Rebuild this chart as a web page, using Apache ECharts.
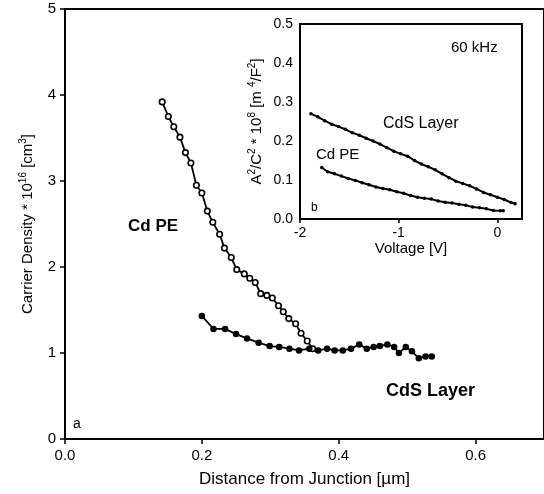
<!DOCTYPE html>
<html><head><meta charset="utf-8">
<script src="https://cdn.jsdelivr.net/npm/echarts@6/dist/echarts.min.js"></script>
<style>html,body{margin:0;padding:0;background:#fff}#c{width:544px;height:494px}</style>
</head><body><div id="c"></div>
<script>
// Main panel (a)
var cdpeX = [0.142,0.151,0.159,0.168,0.176,0.184,0.192,0.200,0.208,0.216,0.226,0.233,0.243,0.251,0.262,0.270,0.278,0.286,0.295,0.303,0.312,0.319,0.327,0.337,0.345,0.354,0.362];
var cdpeY = [3.92,3.75,3.63,3.51,3.33,3.21,2.95,2.86,2.65,2.52,2.38,2.22,2.11,1.97,1.92,1.87,1.82,1.69,1.67,1.64,1.55,1.48,1.40,1.34,1.23,1.14,1.05];
var cdsX = [0.200,0.217,0.234,0.250,0.266,0.283,0.299,0.313,0.328,0.342,0.357,0.370,0.383,0.394,0.406,0.418,0.430,0.441,0.451,0.460,0.471,0.481,0.488,0.498,0.507,0.517,0.527,0.536];
var cdsY = [1.43,1.28,1.28,1.22,1.17,1.12,1.08,1.07,1.05,1.03,1.05,1.03,1.05,1.03,1.03,1.05,1.10,1.05,1.07,1.08,1.10,1.07,1.00,1.07,1.02,0.94,0.96,0.96];
var mainXTicks = ['0.0','0.2','0.4','0.6'];
var mainYTicks = ['0','1','2','3','4','5'];
// Inset panel (b)
var inCdsV = [-1.89,-1.82,-1.75,-1.68,-1.61,-1.54,-1.47,-1.40,-1.33,-1.26,-1.19,-1.12,-1.05,-0.98,-0.91,-0.84,-0.77,-0.70,-0.63,-0.56,-0.49,-0.42,-0.35,-0.28,-0.21,-0.14,-0.07,0.00,0.07,0.14,0.18];
var inCdsY = [0.270,0.262,0.252,0.243,0.237,0.230,0.221,0.215,0.207,0.200,0.192,0.183,0.174,0.167,0.161,0.150,0.141,0.134,0.126,0.116,0.106,0.097,0.091,0.085,0.077,0.068,0.062,0.056,0.050,0.042,0.039];
var inPeV = [-1.78,-1.72,-1.65,-1.58,-1.51,-1.44,-1.37,-1.30,-1.23,-1.16,-1.09,-1.02,-0.95,-0.88,-0.81,-0.74,-0.67,-0.60,-0.53,-0.46,-0.39,-0.32,-0.25,-0.18,-0.11,-0.04,0.03,0.06];
var inPeY = [0.132,0.121,0.116,0.110,0.104,0.099,0.093,0.088,0.082,0.078,0.075,0.070,0.066,0.060,0.056,0.053,0.051,0.046,0.043,0.041,0.038,0.035,0.031,0.029,0.026,0.022,0.021,0.021];
var inXTicks = ['-2','-1','0'];
var inYTicks = ['0.0','0.1','0.2','0.3','0.4','0.5'];

function zip(a,b){return a.map(function(v,i){return [v,b[i]];});}
function pick(arr, v, start, step){var k=(v-start)/step;var i=Math.round(k);if(Math.abs(k-i)>1e-6)return '';return arr[i]||'';}
var F = 'Liberation Sans, Arial, sans-serif';
var chart = echarts.init(document.getElementById('c'), null, {renderer:'canvas'});
var line = {show:true,lineStyle:{color:'#000',width:2}};
var supRich = {b:{fontSize:15,fontFamily:F,color:'#000',lineHeight:17,verticalAlign:'bottom'},s:{fontSize:10,fontFamily:F,color:'#000',lineHeight:17,verticalAlign:'top'}};
chart.setOption({
  animation:false,
  backgroundColor:'#fff',
  grid:[
    {left:65,top:9,width:483,height:430,show:true,borderColor:'#000',borderWidth:2,backgroundColor:'transparent'},
    {left:300,top:24,width:222,height:195,show:true,borderColor:'#000',borderWidth:2,backgroundColor:'#fff',z:5}
  ],
  xAxis:[
    {type:'value',gridIndex:0,min:0,max:0.7,interval:0.2,axisLine:line,splitLine:{show:false},
      axisTick:{length:5,lineStyle:{color:'#000',width:1.5}},
      axisLabel:{color:'#000',fontSize:15,fontFamily:F,margin:9,showMaxLabel:false,formatter:function(v){return pick(mainXTicks,v,0,0.2);}},
      name:'Distance from Junction [µm]',nameLocation:'middle',nameGap:32,nameTextStyle:{color:'#000',fontSize:17,fontFamily:F}},
    {type:'value',gridIndex:1,min:-2,max:0.25,interval:1,axisLine:line,splitLine:{show:false},
      axisTick:{length:4,lineStyle:{color:'#000',width:1.5}},
      axisLabel:{color:'#000',fontSize:14,fontFamily:F,margin:7,showMaxLabel:false,formatter:function(v){return pick(inXTicks,v,-2,1);}},
      name:'Voltage [V]',nameLocation:'middle',nameGap:17,nameTextStyle:{color:'#000',fontSize:15,fontFamily:F}}
  ],
  yAxis:[
    {type:'value',gridIndex:0,min:0,max:5,interval:1,axisLine:line,splitLine:{show:false},
      axisTick:{length:5,lineStyle:{color:'#000',width:1.5}},
      axisLabel:{color:'#000',fontSize:15,fontFamily:F,margin:9,formatter:function(v){return pick(mainYTicks,v,0,1);}},
      name:'{b|Carrier Density * 10}{s|16}{b| [cm}{s|3}{b|]}',nameLocation:'middle',nameGap:30,
      nameTextStyle:{color:'#000',fontFamily:F,rich:supRich}},
    {type:'value',gridIndex:1,min:0,max:0.5,interval:0.1,axisLine:line,splitLine:{show:false},
      axisTick:{length:4,lineStyle:{color:'#000',width:1.5}},
      axisLabel:{color:'#000',fontSize:14,fontFamily:F,margin:7,formatter:function(v){return pick(inYTicks,v,0,0.1);}},
      name:'{b|A}{s|2}{b|/C}{s|2}{b| * 10}{s|8}{b| [m }{s|4}{b|/F}{s|2}{b|]}',nameLocation:'middle',nameGap:36,
      nameTextStyle:{color:'#000',fontFamily:F,rich:supRich}}
  ],
  series:[
    {type:'line',xAxisIndex:0,yAxisIndex:0,data:zip(cdpeX,cdpeY),symbol:'circle',symbolSize:5.5,
      lineStyle:{color:'#000',width:1.8},itemStyle:{color:'#fff',borderColor:'#000',borderWidth:1.6},z:3},
    {type:'line',xAxisIndex:0,yAxisIndex:0,data:zip(cdsX,cdsY),symbol:'circle',symbolSize:6.5,
      lineStyle:{color:'#000',width:1.8},itemStyle:{color:'#000',borderColor:'#000',borderWidth:0},z:3},
    {type:'line',xAxisIndex:1,yAxisIndex:1,data:zip(inCdsV,inCdsY),symbol:'circle',symbolSize:3.5,
      lineStyle:{color:'#000',width:2},itemStyle:{color:'#000'},z:6},
    {type:'line',xAxisIndex:1,yAxisIndex:1,data:zip(inPeV,inPeY),symbol:'circle',symbolSize:3.5,
      lineStyle:{color:'#000',width:2},itemStyle:{color:'#000'},z:6}
  ],
  graphic:[
    {type:'text',left:128,top:218,z:10,style:{text:'Cd PE',fontSize:17,fontWeight:'bold',fontFamily:F,fill:'#000'}},
    {type:'text',left:386,top:382,z:10,style:{text:'CdS Layer',fontSize:18,fontWeight:'bold',fontFamily:F,fill:'#000'}},
    {type:'text',left:73,top:417,z:10,style:{text:'a',fontSize:14,fontFamily:F,fill:'#000'}},
    {type:'text',left:311,top:202,z:10,style:{text:'b',fontSize:12,fontFamily:F,fill:'#000'}},
    {type:'text',left:451,top:40,z:10,style:{text:'60 kHz',fontSize:15,fontFamily:F,fill:'#000'}},
    {type:'text',left:383,top:116,z:10,style:{text:'CdS Layer',fontSize:16,fontFamily:F,fill:'#000'}},
    {type:'text',left:316,top:147,z:10,style:{text:'Cd PE',fontSize:15,fontFamily:F,fill:'#000'}}
  ]
});
</script></body></html>
